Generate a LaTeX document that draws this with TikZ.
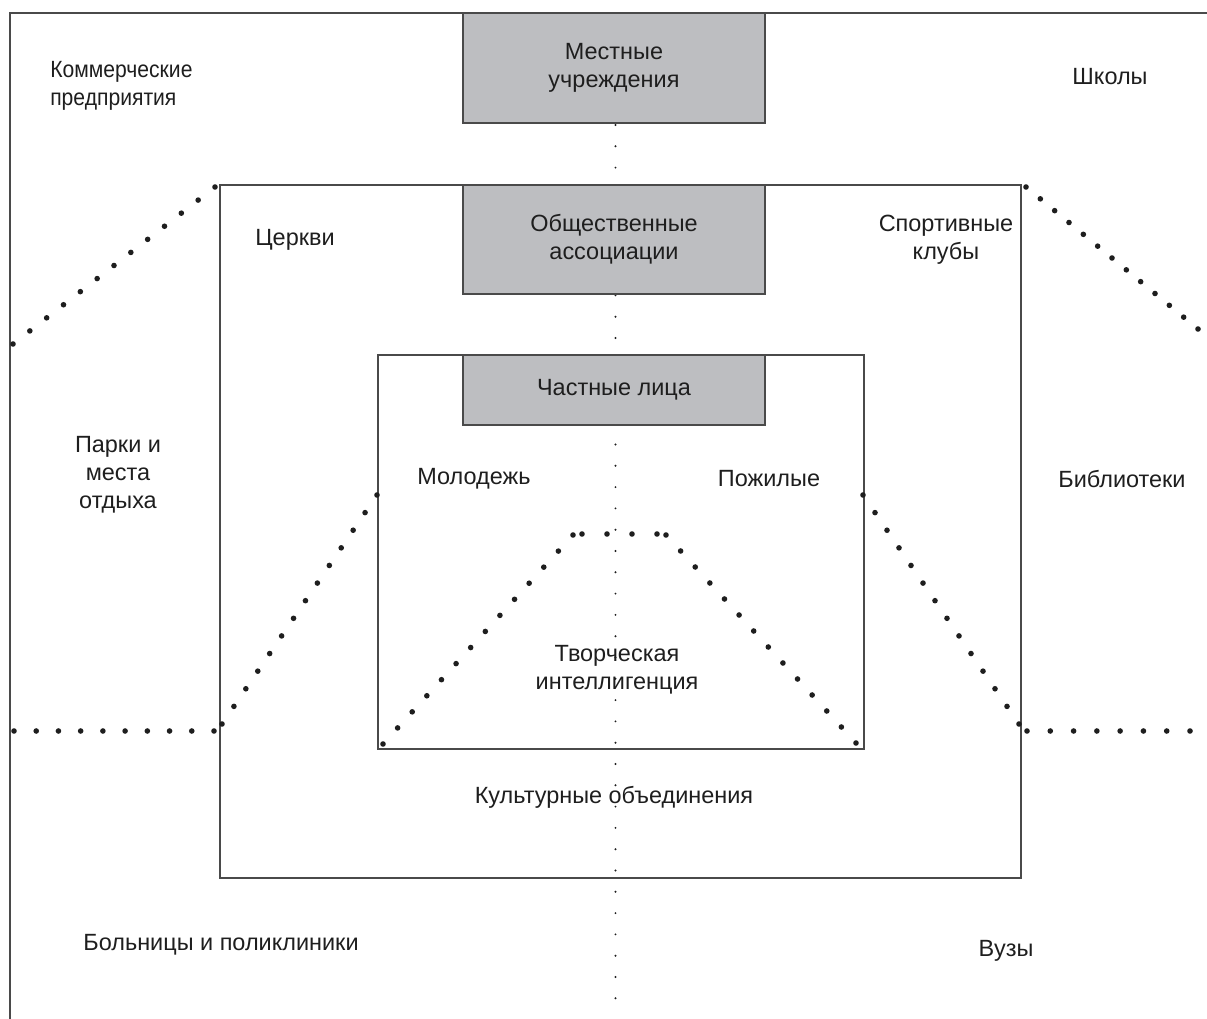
\documentclass[tikz,border=0pt]{standalone}
\usepackage{fontspec}
\setmainfont{Liberation Sans}
\usetikzlibrary{calc}
\definecolor{boxgray}{HTML}{BDBEC1}
\definecolor{linegray}{HTML}{4A4A4A}
\definecolor{inkc}{HTML}{1E1E1E}
\newcommand\dotline[3]{\foreach \i in {0,...,#3}{\fill[inkc] ($(#1)!\i/#3!(#2)$) circle[radius=2.1pt];}}
\begin{document}
\begin{tikzpicture}[x=0.75pt,y=-0.75pt,
  frame/.style={draw=linegray,line width=1.1pt},
  graybox/.style={draw=linegray,line width=1.1pt,fill=boxgray,minimum width=226.5pt,inner sep=0pt,align=center,font=\fontsize{17.6}{21}\selectfont,text=inkc},
  lbl/.style={inner sep=0pt,align=center,font=\fontsize{17.6}{21}\selectfont,text=inkc}]
\useasboundingbox (0,0) rectangle (1207,1019);
% outer frame
\draw[frame] (10,1019) -- (10,13) -- (1207,13);
% central vertical small dots
\foreach \k in {0,...,41}{\fill[inkc] (615.5,{125+21.3*\k}) circle[radius=0.8pt];}
% middle and inner rectangles
\coordinate (mNW) at (220,185); \coordinate (mSE) at (1021,878);
\coordinate (iNW) at (378,355); \coordinate (iSE) at (864,749);
\draw[frame] (mNW) rectangle (mSE);
\draw[frame] (iNW) rectangle (iSE);
% gray boxes
\node[graybox,minimum height=82.5pt] (mest) at (614,68) {Местные\\учреждения};
\node[graybox,minimum height=81.75pt] (obsch) at (614,239.5) {Общественные\\ассоциации};
\node[graybox,minimum height=52.5pt] (chast) at (614,390) {Частные лица};
% dotted borders
\coordinate (ul1) at (13,344); \coordinate (ul2) at (215,187);
\coordinate (ur1) at (1026,187); \coordinate (ur2) at (1198,329);
\coordinate (lh1) at (14,731); \coordinate (lh2) at (214,731);
\coordinate (ld1) at (222,724); \coordinate (ld2) at (377,495);
\coordinate (rd1) at (863,495); \coordinate (rd2) at (1019,724);
\coordinate (rh1) at (1027,731); \coordinate (rh2) at (1190,731);
\coordinate (il1) at (383,744); \coordinate (il2) at (573,535);
\coordinate (it1) at (582,534); \coordinate (it2) at (657,534);
\coordinate (ir1) at (666,535); \coordinate (ir2) at (856,743);
\dotline{ul1}{ul2}{12}
\dotline{ur1}{ur2}{12}
\dotline{lh1}{lh2}{9}
\dotline{ld1}{ld2}{13}
\dotline{rd1}{rd2}{13}
\dotline{rh1}{rh2}{7}
\dotline{il1}{il2}{13}
\dotline{it1}{it2}{3}
\dotline{ir1}{ir2}{13}
% labels
\node[lbl,align=left,anchor=west] (komm) at (50,86) {\scalebox{0.9}[1]{\fontsize{17.6}{21}\selectfont\begin{tabular}{@{}l@{}}Коммерческие\\[-0.5pt]предприятия\end{tabular}}};
\node[lbl] (shk) at (1110,77) {Школы};
\node[lbl] (cerk) at (295,240) {Церкви};
\node[lbl] (sport) at (946,240) {Спортивные\\клубы};
\node[lbl] (park) at (118,475) {Парки и\\места\\отдыха};
\node[lbl] (molod) at (474,479) {Молодежь};
\node[lbl] (pozh) at (769,479) {Пожилые};
\node[lbl] (bibl) at (1122,479) {Библиотеки};
\node[lbl] (tvor) at (617,670) {Творческая\\интеллигенция};
\node[lbl] (kult) at (614,797) {Культурные объединения};
\node[lbl] (boln) at (221,945) {Больницы и поликлиники};
\node[lbl] (vuz) at (1006,951) {Вузы};
\end{tikzpicture}
\end{document}
